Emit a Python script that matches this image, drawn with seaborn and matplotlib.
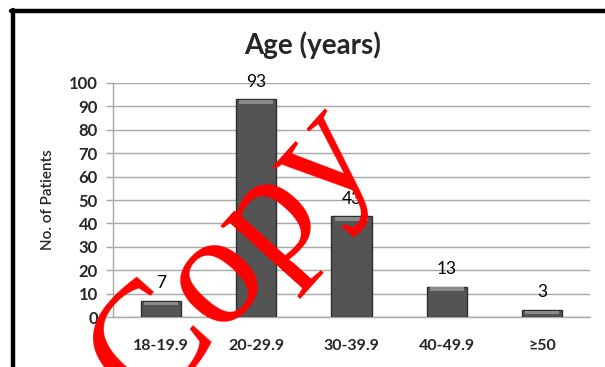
import matplotlib
matplotlib.use("Agg")
import matplotlib.pyplot as plt
from matplotlib.patches import Rectangle
from matplotlib.lines import Line2D
import seaborn as sns
import pandas as pd

# Age distribution of patients
age_groups = ["18-19.9", "20-29.9", "30-39.9", "40-49.9", "\u226550"]
patients = [7, 93, 43, 13, 3]
y_ticks = [0, 10, 20, 30, 40, 50, 60, 70, 80, 90, 100]

df = pd.DataFrame({"age": age_groups, "n": patients})

sns.set_theme(style="white")
plt.rcParams["font.family"] = ["Lato", "DejaVu Sans"]

fig = plt.figure(figsize=(6.05, 3.67), dpi=100)
ax = fig.add_axes([0.187, 0.136, 0.788, 0.638])

sns.barplot(data=df, x="age", y="n", color="#545454", width=0.42,
            edgecolor="#2e2e2e", linewidth=1.0, saturation=1, ax=ax, zorder=3)

# bevel highlight along the top of each bar
for p in ax.patches:
    x0, w, h = p.get_x(), p.get_width(), p.get_height()
    strip = min(1.6, h * 0.45)
    ax.add_patch(Rectangle((x0 + w * 0.08, h - strip - 0.35), w * 0.84, strip,
                           facecolor="#8a8a8a", edgecolor="none", zorder=4))

ax.bar_label(ax.containers[0], labels=[str(v) for v in patients],
             padding=7, fontsize=12.5, color="black")

ax.set_ylim(0, 100)
ax.set_yticks(y_ticks)
ax.set_xlim(-0.5, len(age_groups) - 0.5)
ax.yaxis.grid(True, color="#a8a8a8", linewidth=1.0, zorder=0)
ax.set_axisbelow(True)
for s in ["top", "right"]:
    ax.spines[s].set_visible(False)
for s in ["left", "bottom"]:
    ax.spines[s].set_color("#a8a8a8")
    ax.spines[s].set_linewidth(1.0)

ax.tick_params(axis="y", length=5, color="#a8a8a8", width=1.0, pad=6,
               labelsize=12, left=True)
ax.tick_params(axis="x", length=0, pad=16, labelsize=11.5)
for t in ax.get_yticklabels() + ax.get_xticklabels():
    t.set_fontweight("bold")

ax.set_xlabel("")
ax.set_ylabel("No. of Patients", fontsize=11, fontweight="semibold", labelpad=10)

fig.text(0.517, 0.877, "Age (years)", ha="center", va="center",
         fontsize=20, fontweight="bold")

# outer frame lines (left and top)
fig.add_artist(Line2D([12.5 / 605, 12.5 / 605], [0, 1 - 10 / 367],
                      color="black", linewidth=3.2, transform=fig.transFigure))
fig.add_artist(Line2D([11 / 605, 1], [1 - 10.5 / 367, 1 - 10.5 / 367],
                      color="black", linewidth=3.2, transform=fig.transFigure))

# stamp
fig.text(234 / 605, 1 - 256 / 367, "Copy", ha="center", va="center",
         rotation=48, fontsize=116, color="#ff0000",
         family=["Liberation Serif", "DejaVu Serif"], zorder=10)

fig.savefig("out.png", dpi=100)
